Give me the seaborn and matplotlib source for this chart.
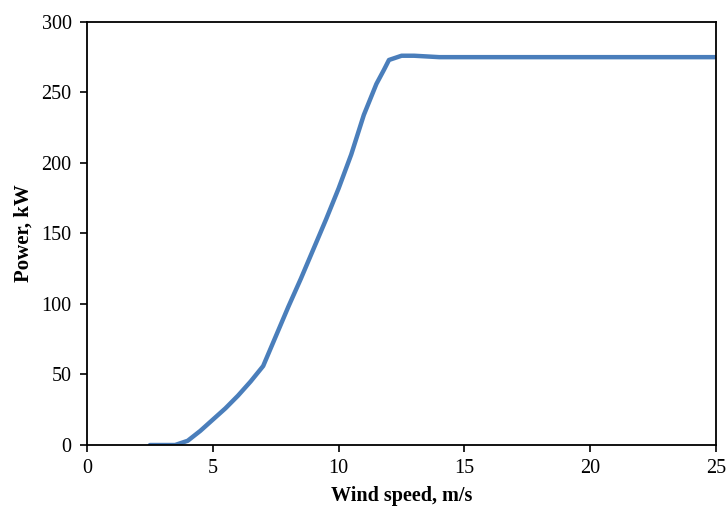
import matplotlib
matplotlib.use("Agg")
import matplotlib.pyplot as plt
import seaborn as sns
import pandas as pd

# power curve
wind_speed = [2.5, 3, 3.5, 4, 4.5, 5, 5.5, 6, 6.5, 7, 7.5, 8, 8.5, 9, 9.5, 10,
              10.5, 11, 11.5, 11.8, 12, 12.5, 13, 13.5, 14, 15, 17, 20, 22, 25]
power = [0, 0, 0, 3, 10, 18, 26, 35, 45, 56, 77, 98, 118, 139, 160, 182,
         206, 234, 256, 266, 273, 276, 276, 275.5, 275, 275, 275, 275, 275, 275]
x_ticks = [0, 5, 10, 15, 20, 25]
y_ticks = [0, 50, 100, 150, 200, 250, 300]

df = pd.DataFrame({"wind": wind_speed, "power": power})

sns.set_style("white")
plt.rcParams["font.family"] = ["Liberation Serif", "DejaVu Serif"]

fig = plt.figure(figsize=(7.27, 5.09), dpi=100)
ax = fig.add_axes([0.1197, 0.1257, 0.8653, 0.8313])

sns.lineplot(data=df, x="wind", y="power", ax=ax, color="#4a7ebb",
             linewidth=3.2, solid_capstyle="round", solid_joinstyle="round")

ax.set_xlim(0, 25)
ax.set_ylim(0, 300)
ax.set_xticks(x_ticks)
ax.set_yticks(y_ticks)
ax.tick_params(axis="both", direction="out", length=5, width=1.2,
               labelsize=14.5, color="black", labelcolor="black",
               bottom=True, left=True)
ax.tick_params(axis="x", pad=5)
ax.tick_params(axis="y", pad=6)
for s in ax.spines.values():
    s.set_color("black")
    s.set_linewidth(1.3)

ax.set_xlabel("Wind speed, m/s", fontsize=14.5, fontweight="bold",
              labelpad=6, color="black")
ax.set_ylabel("Power, kW", fontsize=15, fontweight="bold",
              labelpad=6, color="black")

fig.savefig("out.png", dpi=100)
